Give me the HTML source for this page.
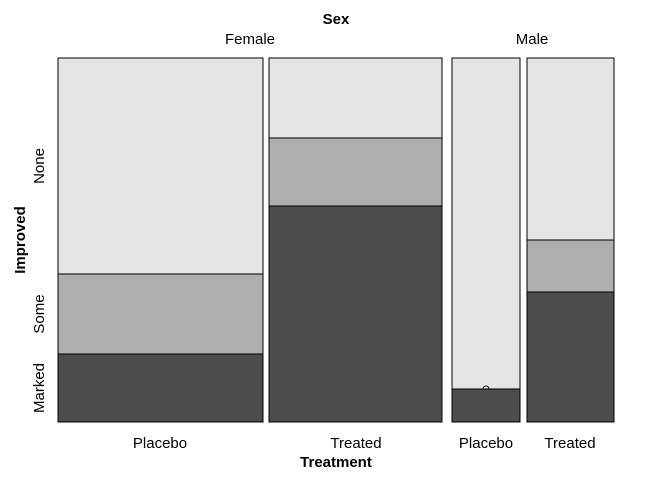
<!DOCTYPE html>
<html><head><style>body{margin:0;background:#fff}</style></head><body>
<svg width="672" height="480" xmlns="http://www.w3.org/2000/svg" font-family="Liberation Sans, sans-serif" font-size="15">
<rect width="672" height="480" fill="#fff"/>
<g stroke="#000" stroke-width="1">
<rect x="58" y="58" width="205" height="216" fill="#e5e5e5"/>
<rect x="58" y="274" width="205" height="80" fill="#aeaeae"/>
<rect x="58" y="354" width="205" height="68" fill="#4d4d4d"/>
<rect x="269" y="58" width="173" height="80" fill="#e5e5e5"/>
<rect x="269" y="138" width="173" height="68" fill="#aeaeae"/>
<rect x="269" y="206" width="173" height="216" fill="#4d4d4d"/>
<rect x="452" y="58" width="68" height="331" fill="#e5e5e5"/>
<rect x="452" y="389" width="68" height="33" fill="#4d4d4d"/>
<rect x="527" y="58" width="87" height="182" fill="#e5e5e5"/>
<rect x="527" y="240" width="87" height="52" fill="#aeaeae"/>
<rect x="527" y="292" width="87" height="130" fill="#4d4d4d"/>
</g>
<path d="M483 389 A3 3 0 0 1 489 389" fill="none" stroke="#000"/>
<text x="336" y="24" text-anchor="middle" font-weight="bold">Sex</text>
<text x="250" y="44" text-anchor="middle">Female</text>
<text x="532" y="44" text-anchor="middle">Male</text>
<text x="160" y="448" text-anchor="middle">Placebo</text>
<text x="356" y="448" text-anchor="middle">Treated</text>
<text x="486" y="448" text-anchor="middle">Placebo</text>
<text x="570" y="448" text-anchor="middle">Treated</text>
<text x="336" y="467" text-anchor="middle" font-weight="bold">Treatment</text>
<text transform="translate(25,240) rotate(-90)" text-anchor="middle" font-weight="bold">Improved</text>
<text transform="translate(44,166) rotate(-90)" text-anchor="middle">None</text>
<text transform="translate(44,314) rotate(-90)" text-anchor="middle">Some</text>
<text transform="translate(44,388) rotate(-90)" text-anchor="middle">Marked</text>
</svg>
</body></html>
